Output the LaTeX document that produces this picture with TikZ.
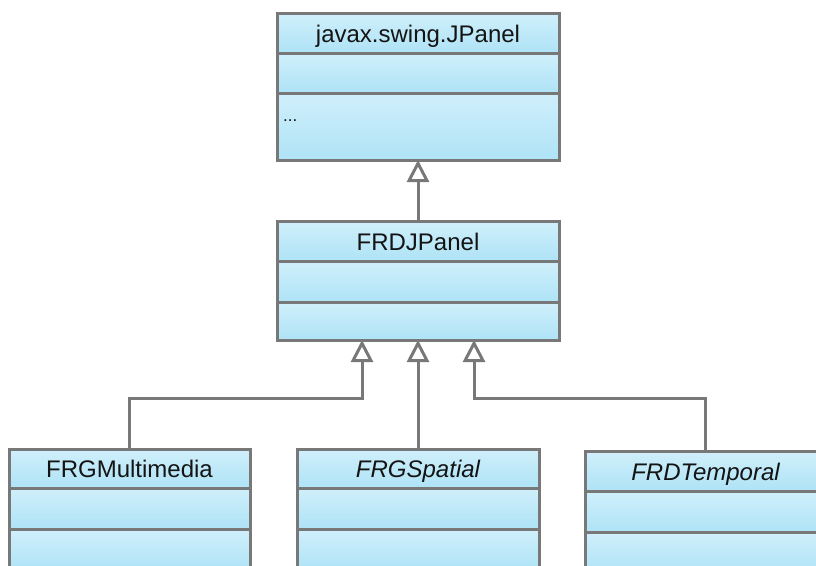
\documentclass[tikz,border=0pt]{standalone}
\usepackage{fontspec}
\setmainfont{Liberation Sans}
\usetikzlibrary{arrows.meta}
\definecolor{umlborder}{HTML}{787878}
\definecolor{umltop}{HTML}{D0EFFB}
\definecolor{umlbot}{HTML}{AEE3F6}
\definecolor{umltext}{HTML}{141414}
\tikzset{
  comp/.style={draw=umlborder, line width=3pt, top color=umltop, bottom color=umlbot,
    inner sep=0pt, outer sep=0pt, anchor=north west, text=umltext,
    font=\fontsize{24}{28}\selectfont, text height=18pt, text depth=0pt},
  abstract/.style={font=\fontsize{24}{28}\selectfont\itshape},
  inh/.style={draw=umlborder, line width=3pt,
    -{Triangle[open, length=22pt, width=22pt, fill=white]}},
}
\begin{document}
\begin{tikzpicture}[x=1pt,y=-1pt]
\useasboundingbox (0,0) rectangle (816,565);
\clip (0,0) rectangle (816,565);

% javax.swing.JPanel
\node[comp, minimum width=282pt, minimum height=40pt] (jpH) at (277,13) {javax.swing.JPanel};
\node[comp, minimum width=282pt, minimum height=40pt] (jpA) at (277,53) {};
\node[comp, minimum width=282pt, minimum height=67pt] (jpO) at (277,93) {};
\node[anchor=base west, inner sep=0pt, text=umltext, font=\fontsize{17}{20}\selectfont] (jpDots) at (283,121) {...};

% FRDJPanel
\node[comp, minimum width=282pt, minimum height=40pt] (frdH) at (277,221) {FRDJPanel};
\node[comp, minimum width=282pt, minimum height=41pt] (frdA) at (277,261) {};
\node[comp, minimum width=282pt, minimum height=38pt] (frdO) at (277,302) {};

% FRGMultimedia
\node[comp, minimum width=241pt, minimum height=39pt] (mmH) at (9,449) {FRGMultimedia};
\node[comp, minimum width=241pt, minimum height=41pt] (mmA) at (9,488) {};
\node[comp, minimum width=241pt, minimum height=41pt] (mmO) at (9,529) {};

% FRGSpatial
\node[comp, abstract, minimum width=242pt, minimum height=39pt] (spH) at (297,449) {FRGSpatial};
\node[comp, minimum width=242pt, minimum height=41pt] (spA) at (297,488) {};
\node[comp, minimum width=242pt, minimum height=41pt] (spO) at (297,529) {};

% FRDTemporal
\node[comp, abstract, minimum width=241pt, minimum height=40pt] (tpH) at (585,451) {FRDTemporal};
\node[comp, minimum width=241pt, minimum height=41pt] (tpA) at (585,491) {};
\node[comp, minimum width=241pt, minimum height=41pt] (tpO) at (585,532) {};

% generalisation connectors
\coordinate (bus) at (0,398);
\draw[inh] (frdH.north) -- (jpO.south);
\draw[inh] (spH.north) -- (frdO.south);
\draw[inh] (mmH.north) -- (mmH.north |- bus) -| ([xshift=-56pt]frdO.south);
\draw[inh] (tpH.north) -- (tpH.north |- bus) -| ([xshift=56pt]frdO.south);
\end{tikzpicture}
\end{document}
